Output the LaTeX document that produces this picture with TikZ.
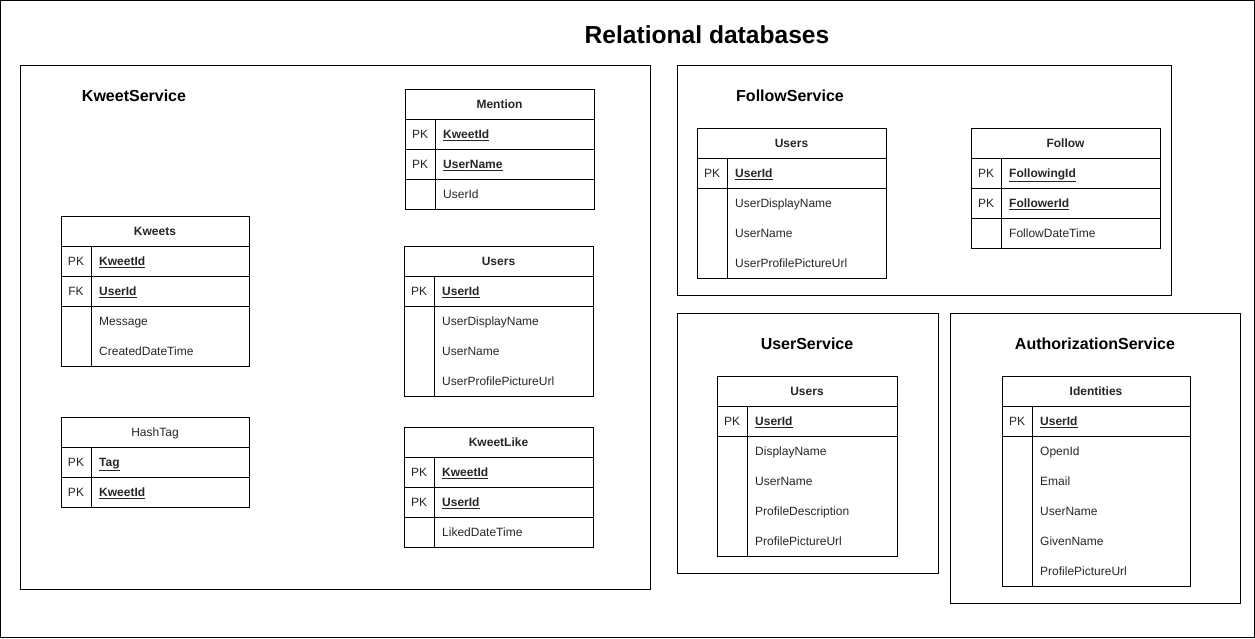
\documentclass[tikz,border=0pt]{standalone}
\usepackage{fontspec}
\setmainfont{Liberation Sans}
\tikzset{
  frame/.style={draw=black, line width=1pt},
  tbl/.style={draw=black, line width=0.9pt},
  txt/.style={font=\fontsize{12}{14}\selectfont, inner sep=0pt, text=black!85},
  hdr/.style={txt, anchor=base},
  keylbl/.style={txt, anchor=base},
  fld/.style={txt, anchor=base west},
  svc/.style={font=\bfseries\fontsize{16}{19}\selectfont, inner sep=0pt, anchor=base},
  ttl/.style={font=\bfseries\fontsize{24.6}{28}\selectfont, inner sep=0pt, anchor=base},
}
% name, x1, y1, x2, y2, title
\newcommand{\DBtable}[6]{%
  \draw[tbl] (#2,#3) rectangle (#4,#5);
  \draw[tbl] (#2,#3+30) -- (#4,#3+30);
  \draw[tbl] (#2+30,#3+30) -- (#2+30,#5);
  \node[hdr] (#1-title) at ({(#2+#4)/2},#3+19.5) {#6};
}
% name, x1, x2, ytop, label, text
\newcommand{\DBkey}[6]{%
  \draw[tbl] (#2,#4+30) -- (#3,#4+30);
  \node[keylbl] (#1-k) at (#2+15,#4+19.5) {#5};
  \node[fld] (#1) at (#2+38,#4+19.5) {\underline{\textbf{#6}}};
}
% name, x1, ycenter, text
\newcommand{\DBfield}[4]{%
  \node[fld] (#1) at (#2+38,#3+4.5) {#4};
}
\begin{document}
\begin{tikzpicture}[x=1pt,y=-1pt]
\useasboundingbox (0,0) rectangle (1255,638);
\draw[frame] (0.5,0.5) rectangle (1254.5,637.5);
\node[ttl] (title) at (707,43) {Relational databases};

% service frames
\draw[frame] (20,65) rectangle (650,589);
\node[svc] (kslbl) at (134,101) {KweetService};
\draw[frame] (677,65) rectangle (1171,295);
\node[svc] (fslbl) at (790,101) {FollowService};
\draw[frame] (677,313) rectangle (938,573);
\node[svc] (uslbl) at (807,349) {UserService};
\draw[frame] (950,313) rectangle (1240,603);
\node[svc] (aslbl) at (1095,349) {AuthorizationService};

% Kweets
\DBtable{kw}{61}{216}{249}{366}{\textbf{Kweets}}
\DBkey{kwA}{61}{249}{246}{PK}{KweetId}
\DBkey{kwB}{61}{249}{276}{FK}{UserId}
\DBfield{kwC}{61}{321}{Message}
\DBfield{kwD}{61}{351}{CreatedDateTime}

% HashTag
\DBtable{ht}{61}{417}{249}{507}{HashTag}
\DBkey{htA}{61}{249}{447}{PK}{Tag}
\DBkey{htB}{61}{249}{477}{PK}{KweetId}

% Mention
\DBtable{mn}{405}{89}{594}{209}{\textbf{Mention}}
\DBkey{mnA}{405}{594}{119}{PK}{KweetId}
\DBkey{mnB}{405}{594}{149}{PK}{UserName}
\DBfield{mnC}{405}{194}{UserId}

% Users (KweetService)
\DBtable{uk}{404}{246}{593}{396}{\textbf{Users}}
\DBkey{ukA}{404}{593}{276}{PK}{UserId}
\DBfield{ukB}{404}{321}{UserDisplayName}
\DBfield{ukC}{404}{351}{UserName}
\DBfield{ukD}{404}{381}{UserProfilePictureUrl}

% KweetLike
\DBtable{kl}{404}{427}{593}{547}{\textbf{KweetLike}}
\DBkey{klA}{404}{593}{457}{PK}{KweetId}
\DBkey{klB}{404}{593}{487}{PK}{UserId}
\DBfield{klC}{404}{532}{LikedDateTime}

% Users (FollowService)
\DBtable{uf}{697}{128}{886}{278}{\textbf{Users}}
\DBkey{ufA}{697}{886}{158}{PK}{UserId}
\DBfield{ufB}{697}{203}{UserDisplayName}
\DBfield{ufC}{697}{233}{UserName}
\DBfield{ufD}{697}{263}{UserProfilePictureUrl}

% Follow
\DBtable{fo}{971}{128}{1160}{248}{\textbf{Follow}}
\DBkey{foA}{971}{1160}{158}{PK}{FollowingId}
\DBkey{foB}{971}{1160}{188}{PK}{FollowerId}
\DBfield{foC}{971}{233}{FollowDateTime}

% Users (UserService)
\DBtable{us}{717}{376}{897}{556}{\textbf{Users}}
\DBkey{usA}{717}{897}{406}{PK}{UserId}
\DBfield{usB}{717}{451}{DisplayName}
\DBfield{usC}{717}{481}{UserName}
\DBfield{usD}{717}{511}{ProfileDescription}
\DBfield{usE}{717}{541}{ProfilePictureUrl}

% Identities
\DBtable{id}{1002}{376}{1190}{586}{\textbf{Identities}}
\DBkey{idA}{1002}{1190}{406}{PK}{UserId}
\DBfield{idB}{1002}{451}{OpenId}
\DBfield{idC}{1002}{481}{Email}
\DBfield{idD}{1002}{511}{UserName}
\DBfield{idE}{1002}{541}{GivenName}
\DBfield{idF}{1002}{571}{ProfilePictureUrl}
\end{tikzpicture}
\end{document}
